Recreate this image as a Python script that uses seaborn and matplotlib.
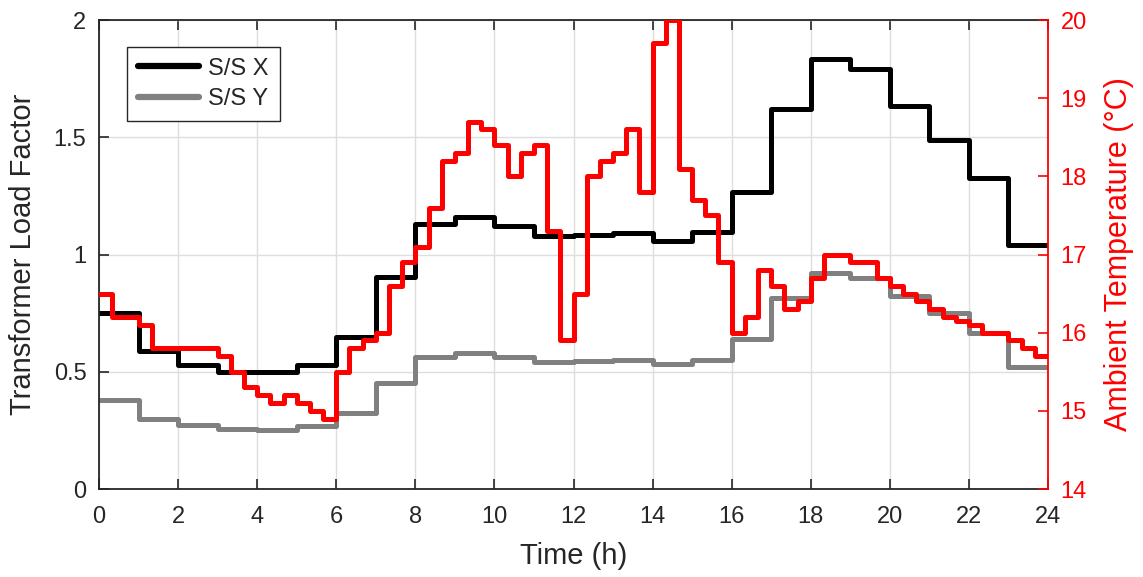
import numpy as np
import pandas as pd
import matplotlib
matplotlib.use("Agg")
import matplotlib.pyplot as plt
import seaborn as sns

# hourly load factors (h = 0..23)
hours = np.arange(0, 24)
load_x = [0.75, 0.59, 0.53, 0.50, 0.50, 0.53, 0.65, 0.905, 1.13, 1.16, 1.12, 1.08,
          1.085, 1.093, 1.058, 1.097, 1.268, 1.62, 1.833, 1.79, 1.635, 1.49, 1.326, 1.04]
load_y = [0.38, 0.30, 0.272, 0.256, 0.252, 0.268, 0.325, 0.453, 0.565, 0.58, 0.561, 0.543,
          0.546, 0.55, 0.532, 0.552, 0.64, 0.816, 0.92, 0.898, 0.823, 0.749, 0.667, 0.522]

# ambient temperature every 20 min
temp_time = np.arange(72) / 3
temp = [16.5, 16.2, 16.2, 16.1, 15.8, 15.8, 15.8, 15.8, 15.8, 15.7, 15.5, 15.3,
        15.2, 15.1, 15.2, 15.1, 15.0, 14.9, 15.5, 15.8, 15.9, 16.0, 16.6, 16.9,
        17.1, 17.6, 18.2, 18.3, 18.7, 18.6, 18.4, 18.0, 18.3, 18.4, 17.3, 15.9,
        16.5, 18.0, 18.2, 18.3, 18.6, 17.8, 19.7, 20.0, 18.1, 17.7, 17.5, 16.9,
        16.0, 16.2, 16.8, 16.6, 16.3, 16.4, 16.7, 17.0, 17.0, 16.9, 16.9, 16.7,
        16.6, 16.5, 16.4, 16.3, 16.2, 16.15, 16.1, 16.0, 16.0, 15.9, 15.8, 15.7]

series_names = ["S/S X", "S/S Y"]

sns.set_theme(style="white")
plt.rcParams["font.family"] = ["Liberation Sans", "DejaVu Sans"]

# stairs: repeat last value at the end of the day
def stairs(x, y, end):
    return pd.DataFrame({"x": np.append(x, end), "y": np.append(y, y[-1])})

fig = plt.figure(figsize=(11.43, 5.77), dpi=100)
ax = fig.add_axes([0.0866, 0.1525, 0.8303, 0.8128])

lw = 3.6
dx = stairs(hours, load_x, 24)
dy = stairs(hours, load_y, 24)
sns.lineplot(data=dx, x="x", y="y", ax=ax, color="black", lw=lw,
             drawstyle="steps-post", label=series_names[0])
sns.lineplot(data=dy, x="x", y="y", ax=ax, color="#808080", lw=lw,
             drawstyle="steps-post", label=series_names[1])

ax.set_xlim(0, 24)
ax.set_ylim(0, 2)
ax.set_xticks(np.arange(0, 25, 2))
ax.set_yticks([0, 0.5, 1, 1.5, 2])
ax.set_yticklabels(["0", "0.5", "1", "1.5", "2"])
ax.grid(True, color="#dedede", lw=1)
ax.set_axisbelow(True)
ax.set_xlabel("Time (h)", fontsize=21, color="#262626", labelpad=10)
ax.set_ylabel("Transformer Load Factor", fontsize=21, color="#262626", labelpad=12)
ax.tick_params(axis="x", pad=12)
ax.tick_params(axis="y", pad=9)
ax.tick_params(axis="both", direction="in", length=7, width=1.2, labelsize=17,
               colors="#262626", top=True, bottom=True, left=True, right=False)
for s in ["left", "bottom", "top"]:
    ax.spines[s].set_color("#262626")
    ax.spines[s].set_linewidth(1.3)
ax.spines["right"].set_visible(False)

leg = ax.legend(loc="upper left", bbox_to_anchor=(0.0295, 0.9424), borderaxespad=0,
                fontsize=17, frameon=True, fancybox=False, framealpha=1,
                edgecolor="#262626", handlelength=2.6, handletextpad=0.4,
                borderpad=0.45, labelspacing=0.35)
leg.get_frame().set_linewidth(1.0)
for h in leg.get_lines():
    h.set_linewidth(4.5)

ax2 = ax.twinx()
dt = stairs(temp_time, temp, 24)
sns.lineplot(data=dt, x="x", y="y", ax=ax2, color="red", lw=lw,
             drawstyle="steps-post", legend=False)
ax2.set_ylim(14, 20)
ax2.set_yticks(np.arange(14, 21, 1))
ax2.set_ylabel("Ambient Temperature (°C)", fontsize=22, color="red", labelpad=12)
ax2.set_xlabel("")
ax2.tick_params(axis="y", direction="in", length=7, width=1.2, labelsize=17,
                colors="red", right=True, left=False, pad=9)
ax2.spines["right"].set_color("red")
ax2.spines["right"].set_linewidth(1.3)
for s in ["left", "bottom", "top"]:
    ax2.spines[s].set_visible(False)
ax2.grid(False)

fig.savefig("out.png", dpi=100)
